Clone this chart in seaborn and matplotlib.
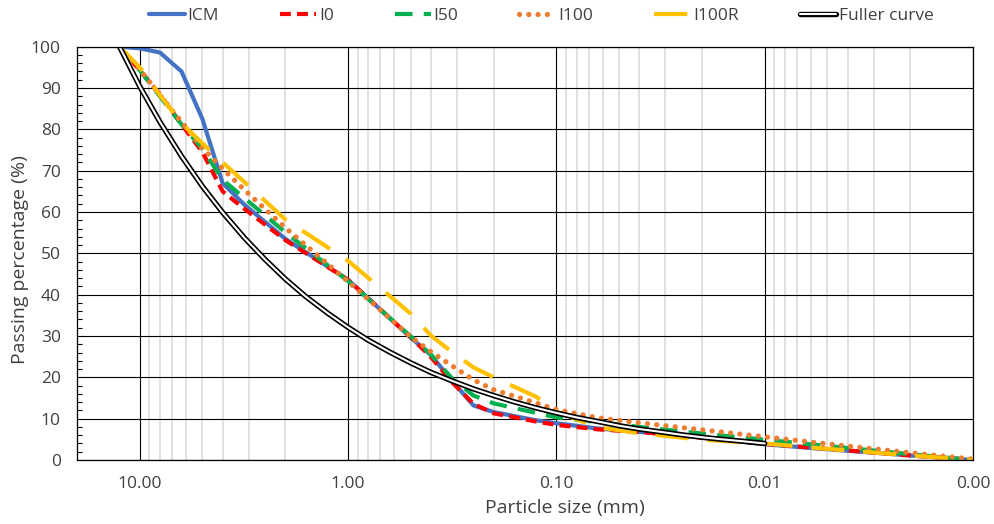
import matplotlib
matplotlib.use("Agg")
import matplotlib.pyplot as plt
import matplotlib.patheffects as pe
from matplotlib.ticker import FixedLocator, LogLocator, MultipleLocator, FuncFormatter, NullFormatter
import seaborn as sns
import pandas as pd

# ---- data ----
sizes = [12.5, 10, 8, 6.3, 5, 4, 3.15, 2, 1, 0.5, 0.4, 0.315, 0.25, 0.2,
         0.125, 0.1, 0.063, 0.04, 0.02, 0.01, 0.005, 0.002, 0.001]
icm = [100, 99.6, 98.6, 94.0, 82.5, 67.0, 61.8, 53.5, 43.6, 29.6, 25.4, 19.0, 13.2, 11.6,
       9.6, 8.9, 7.6, 6.8, 5.5, 3.8, 2.6, 1.1, 0]
i0 = [100, 94.3, 88.5, 81.2, 74.5, 65.0, 60.8, 53.2, 43.6, 29.7, 24.9, 18.7, 13.6, 11.3,
      9.3, 8.5, 7.4, 6.8, 5.4, 3.9, 2.7, 1.1, 0]
i50 = [100, 94.3, 88.0, 81.2, 75.3, 67.8, 63.4, 55.1, 43.3, 29.9, 25.5, 19.6, 15.6, 13.7,
       11.4, 10.3, 9.2, 8.0, 6.4, 4.9, 3.4, 1.4, 0]
i100 = [100, 94.5, 88.3, 81.8, 75.5, 70.5, 65.4, 56.2, 43.2, 29.8, 26.2, 22.7, 19.4, 17.0,
        13.8, 12.2, 10.2, 9.0, 7.3, 5.6, 3.9, 1.75, 0.2]
i100r = [100, 95.0, 88.3, 81.5, 76.6, 72.0, 67.3, 58.2, 48.2, 35.4, 30.1, 26.0, 22.4, 20.0,
         15.3, 11.7, 7.9, 6.5, 4.9, 4.0, 2.7, 1.1, 0]

fuller_sizes = [12.5, 10, 8, 6.3, 5, 4, 3.15, 2.5, 2, 1.6, 1.25, 1, 0.8, 0.63, 0.5, 0.4,
                0.315, 0.25, 0.2, 0.16, 0.125, 0.1, 0.08, 0.063, 0.05, 0.04, 0.0315,
                0.025, 0.02, 0.016, 0.0125, 0.01]
fuller = [100, 90.4, 81.8, 73.5, 66.2, 59.9, 53.8, 48.5, 43.8, 39.6, 35.5, 32.1, 29.0,
          26.1, 23.5, 21.2, 19.1, 17.2, 15.6, 14.1, 12.6, 11.4, 10.3, 9.3, 8.3, 7.5,
          6.8, 6.1, 5.5, 5.0, 4.5, 4.0]

x_ticks = [10, 1, 0.1, 0.01, 0.001]
y_ticks = [0, 10, 20, 30, 40, 50, 60, 70, 80, 90, 100]

# ---- style ----
sns.set_style("white")
plt.rcParams['font.family'] = ['Open Sans', 'DejaVu Sans']
TXT = '#404040'

fig = plt.figure(figsize=(9.95, 5.24), dpi=100)
ax = fig.add_axes([77 / 995, 1 - 460 / 524, (973 - 77) / 995, (460 - 46.7) / 524])

series = [
    ("ICM", icm, dict(color="#4472C4", lw=3.0, linestyle="-")),
    ("I0", i0, dict(color="#FF0000", lw=3.0, linestyle=(0, (2.6, 1.5)))),
    ("I50", i50, dict(color="#00B050", lw=3.0, linestyle=(0, (4.2, 2.7)))),
    ("I100", i100, dict(color="#ED7D31", lw=3.8, linestyle=(0, (0.01, 1.75)),
                        dash_capstyle="round")),
    ("I100R", i100r, dict(color="#FFC000", lw=3.0, linestyle=(0, (8.0, 4.5)))),
]
for name, vals, st in series:
    df = pd.DataFrame({"size": sizes, "passing": vals})
    sns.lineplot(data=df, x="size", y="passing", ax=ax, sort=False,
                 estimator=None, legend=False, label=name, **st)

dff = pd.DataFrame({"size": fuller_sizes, "passing": fuller})
sns.lineplot(data=dff, x="size", y="passing", ax=ax, sort=False, estimator=None,
             legend=False, label="Fuller curve", color="white", lw=1.5,
             solid_capstyle="round",
             path_effects=[pe.Stroke(linewidth=3.9, foreground="black", capstyle="round"),
                           pe.Normal()])

# ---- axes ----
ax.set_xscale("log")
ax.set_xlim(20, 0.001)
ax.set_ylim(0, 100)
ax.xaxis.set_major_locator(FixedLocator(x_ticks))
ax.xaxis.set_major_formatter(FuncFormatter(lambda v, p: f"{v:.2f}"))
ax.xaxis.set_minor_locator(LogLocator(base=10, subs=[2, 3, 4, 5, 6, 7, 8, 9], numticks=20))
ax.xaxis.set_minor_formatter(NullFormatter())
ax.yaxis.set_major_locator(FixedLocator(y_ticks))
ax.yaxis.set_minor_locator(MultipleLocator(2))

ax.set_axisbelow(True)
ax.grid(which="minor", axis="x", color="#D9D9D9", lw=1.1)
ax.grid(which="major", axis="both", color="black", lw=0.8)

for s in ax.spines.values():
    s.set_visible(True)
    s.set_color("black")
    s.set_linewidth(0.9)

ax.tick_params(axis="x", which="major", direction="inout", length=7, width=0.8,
               color="black", labelsize=12.5, labelcolor=TXT, pad=8)
ax.tick_params(axis="x", which="minor", direction="in", length=3.6, width=0.8,
               color="black")
ax.tick_params(axis="y", which="major", direction="out", length=3.6, width=0.8,
               color="black", labelsize=12.5, labelcolor=TXT, pad=8)
ax.tick_params(axis="y", which="minor", direction="in", length=3.6, width=0.8,
               color="black", left=True)

ax.set_xlabel("Particle size (mm)", fontsize=14, color=TXT)
ax.set_ylabel("Passing percentage (%)", fontsize=14, color=TXT)
ax.xaxis.set_label_coords((565 - 77) / 896, -0.095)
ax.yaxis.set_label_coords(-0.054, 0.484)

handles, labels = ax.get_legend_handles_labels()
fig.legend(handles, labels, loc="center", bbox_to_anchor=(541 / 995, 1 - 16 / 524),
           ncol=6, frameon=False, fontsize=12.5, handlelength=2.1,
           handletextpad=0.15, columnspacing=3.5, labelcolor=TXT)

fig.savefig("out.png", dpi=100)
